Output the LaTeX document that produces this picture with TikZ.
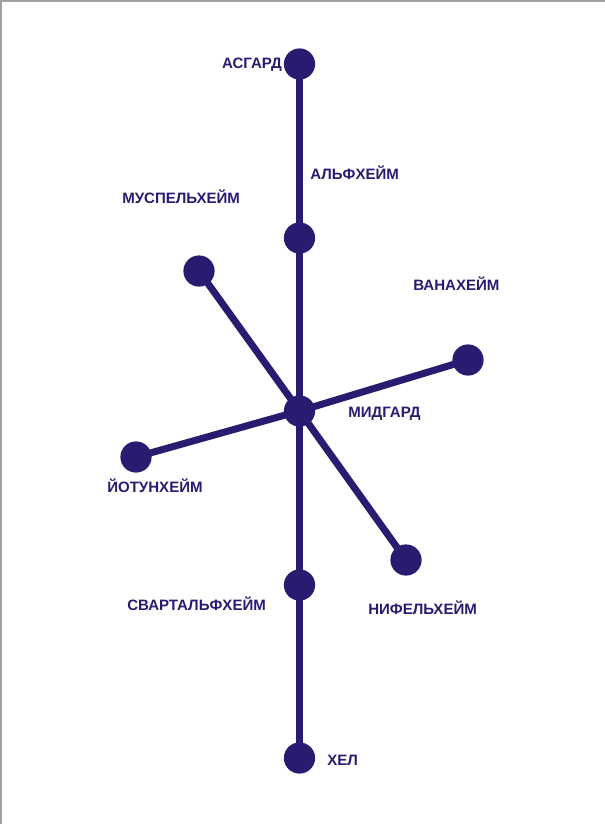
\documentclass[tikz,border=0pt]{standalone}
\usepackage{fontspec}
\setmainfont{Liberation Sans}
\usepackage{tikz}
\usetikzlibrary{backgrounds}
\definecolor{yggblue}{RGB}{42, 27, 112}
\definecolor{framegray}{RGB}{160, 160, 160}

\begin{document}
\begin{tikzpicture}[x=0.025cm, y=-0.025cm,
    world/.style={circle, fill=yggblue, inner sep=0, minimum size=0.78cm},
    link/.style={yggblue, line width=0.175cm},
    worldname/.style={inner sep=0, text=yggblue, font=\fontsize{10.7}{12}\selectfont\bfseries}]
\useasboundingbox (0,0) rectangle (605,824);
% frame
\draw[framegray, line width=1.5pt] (0.8,824) -- (0.8,0.8) -- (605,0.8);

% worlds on the trunk
\node[world] (asgard) at (299.5,64) {};
\node[world] (alfheim) at (299.5,238) {};
\node[world] (midgard) at (299.5,411) {};
\node[world] (svartalfheim) at (299.5,585) {};
\node[world] (hel) at (299.5,758) {};
% worlds on the branches
\node[world] (muspelheim) at (199,271) {};
\node[world] (vanaheim) at (468,360) {};
\node[world] (jotunheim) at (136,457) {};
\node[world] (niflheim) at (406,560) {};

\begin{pgfonlayer}{background}
\draw[link] (asgard.center) -- (alfheim.center) -- (midgard.center)
    -- (svartalfheim.center) -- (hel.center);
\draw[link] (muspelheim.center) -- (midgard.center) -- (niflheim.center);
\draw[link] (jotunheim.center) -- (midgard.center) -- (vanaheim.center);
\end{pgfonlayer}

% names
\node[worldname, anchor=base east] (asgardname) at (282,68) {АСГАРД};
\node[worldname, anchor=base west] (alfheimname) at (310,179) {АЛЬФХЕЙМ};
\node[worldname, anchor=base west] (muspelheimname) at (122,203) {МУСПЕЛЬХЕЙМ};
\node[worldname, anchor=base west] (vanaheimname) at (413,290) {ВАНАХЕЙМ};
\node[worldname, anchor=base west] (midgardname) at (348,417) {МИДГАРД};
\node[worldname, anchor=base west] (jotunheimname) at (107,492) {ЙОТУНХЕЙМ};
\node[worldname, anchor=base west] (svartalfheimname) at (127,610) {СВАРТАЛЬФХЕЙМ};
\node[worldname, anchor=base west] (niflheimname) at (368,614) {НИФЕЛЬХЕЙМ};
\node[worldname, anchor=base west] (helname) at (327,765) {ХЕЛ};
\end{tikzpicture}
\end{document}
